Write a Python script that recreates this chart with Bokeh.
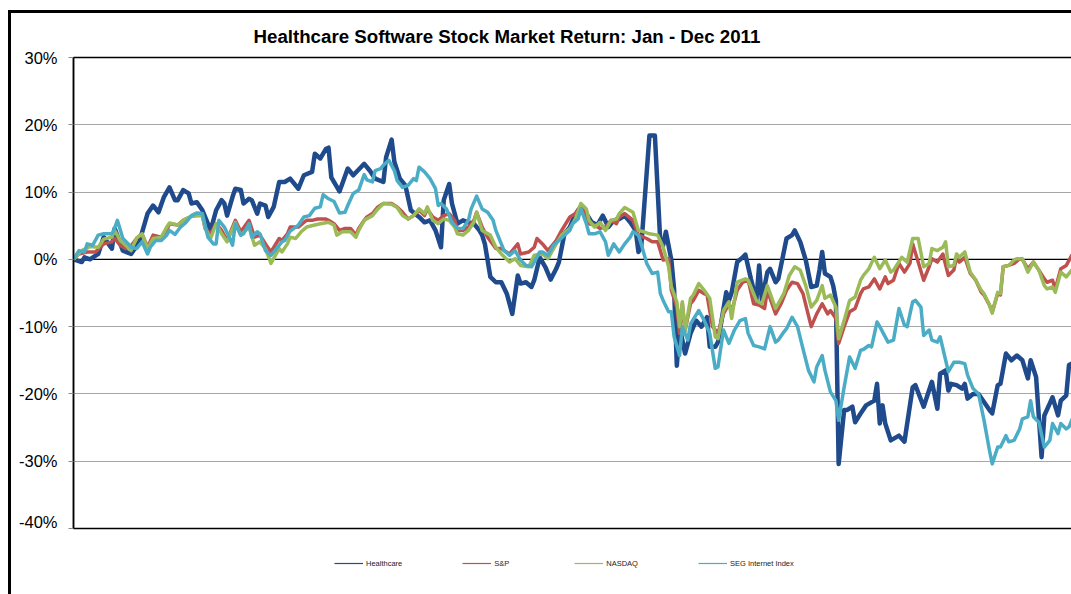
from bokeh.plotting import figure
from bokeh.layouts import column
from bokeh.models import Range1d, FixedTicker, PrintfTickFormatter, Span, Legend, LegendItem
from bokeh.embed import file_html
from bokeh.resources import INLINE

TITLE = "Healthcare Software Stock Market Return: Jan - Dec 2011"
series_names = ["Healthcare", "S&P", "NASDAQ", "SEG Internet Index"]
y_ticks = [-40, -30, -20, -10, 0, 10, 20, 30]

# day of year (0 = first trading day of 2011) and cumulative return in %
hc_day = [0,3,4,6,9,11,14,15,18,21,24,27,29,31,33,35,37,38,40,42,43,45,47,50,52,54,55,56,58,59,61,62,64,65,67,68,70,71,73,75,77,79,82,84,87,88,90,92,93,94,97,100,102,106,108,110,113,114,116,117,119,121,123,126,128,130,132,134,135,137,138,140,142,144,146,148,149,150,152,154,156,158,160,162,163,165,167,168,170,172,174,176,177,179,181,182,184,187,189,191,193,195,197,199,201,203,205,206,207,210,212,214,215,216,218,219,220,221,223,225,227,229,231,232,234,235,238,239,240,242,244,245,247,249,250,251,253,254,256,257,260,262,263,265,267,269,271,272,273,274,276,277,278,279,281,282,284,285,287,289,292,293,294,295,296,298,301,303,306,307,310,313,315,316,318,319,320,322,324,325,326,328,330,332,334,335,337,338,340,342,344,346,348,349,351,353,354,356,357,359,360,362,363,365]
hc_ret = [0.0,-0.4,0.3,0.0,0.8,3.3,1.6,4.6,1.3,0.8,2.6,6.8,8.0,7.0,9.3,10.7,8.8,8.8,10.3,9.8,8.3,8.5,7.3,4.3,7.3,8.8,8.3,6.5,9.3,10.5,10.3,8.3,9.0,8.8,6.8,8.3,8.0,6.3,7.8,11.5,11.5,12.0,10.5,12.5,13.0,15.7,15.0,16.4,16.6,12.2,10.1,13.5,12.5,14.2,13.2,12.0,11.5,15.2,17.8,14.5,12.0,11.0,7.3,6.3,5.5,5.8,4.3,1.8,8.8,11.2,8.3,5.3,5.8,5.5,5.3,4.3,3.6,2.3,-2.6,-3.4,-3.4,-5.1,-8.1,-2.4,-3.6,-3.4,-4.1,-3.1,0.3,-1.1,-3.0,-1.4,-0.4,3.8,4.8,5.8,7.3,6.8,5.5,5.1,6.5,4.8,5.8,6.0,6.5,5.5,4.3,1.1,1.8,18.4,18.4,2.3,2.1,4.1,-0.1,-4.4,-15.8,-10.0,-14.0,-11.0,-9.1,-10.0,-8.6,-13.0,-13.0,-12.3,-4.9,-6.1,-4.9,-0.4,0.3,0.7,-2.9,-6.1,-0.9,-6.1,-1.9,-1.4,-3.4,-2.9,3.1,3.6,4.3,2.6,-0.1,-4.1,-3.9,-1.6,1.1,-2.1,-2.6,-3.9,-6.1,-30.4,-22.4,-22.4,-21.9,-24.2,-22.9,-21.7,-21.0,-18.5,-24.4,-21.7,-24.4,-26.9,-26.2,-27.1,-19.0,-18.7,-21.9,-18.2,-22.2,-17.0,-16.5,-19.5,-18.5,-18.7,-19.2,-18.5,-20.7,-20.0,-20.0,-21.2,-22.4,-22.9,-18.7,-18.5,-14.0,-15.0,-14.3,-15.0,-17.7,-15.0,-17.5,-29.4,-23.2,-21.4,-20.5,-23.2,-21.0,-20.2,-15.7,-15.3]

sp_day = [0,2,5,8,11,14,15,17,19,21,23,25,27,29,32,34,35,38,40,43,45,47,48,50,52,54,56,59,61,64,66,68,70,72,75,76,78,79,82,84,85,87,89,92,93,95,97,99,101,103,104,106,107,109,111,113,116,118,120,122,124,126,128,129,131,133,135,137,139,140,142,144,146,147,149,151,154,156,159,160,162,163,166,168,169,171,173,176,178,181,183,185,187,188,190,192,194,196,198,199,201,204,206,209,211,213,215,217,218,220,221,222,223,225,226,228,230,231,233,235,237,239,240,242,244,246,248,250,252,253,256,258,260,262,264,266,269,271,273,275,276,278,279,281,283,285,287,288,290,292,294,296,297,299,301,303,305,306,308,310,312,313,315,317,319,321,322,323,325,327,329,331,332,334,335,337,338,339,341,343,345,346,348,350,352,354,355,357,358,360,362,364,365]
sp_ret = [0.0,0.8,1.1,1.1,2.3,2.6,3.1,2.1,1.6,2.0,3.1,3.8,1.8,3.6,3.3,4.3,5.3,5.1,5.8,6.4,6.5,6.5,4.6,3.8,5.3,4.3,2.8,5.8,4.1,5.8,3.3,3.6,2.3,1.1,3.1,2.8,3.8,4.8,4.8,5.5,5.8,5.8,6.0,6.0,5.8,5.3,4.3,4.6,4.6,3.6,4.6,5.8,6.3,6.8,7.8,8.3,8.3,7.8,7.0,6.0,6.5,7.3,6.5,7.5,6.3,5.8,6.5,6.8,5.8,4.3,4.3,4.8,5.8,7.0,4.8,3.3,1.6,1.6,0.8,1.3,2.3,0.8,1.1,1.8,3.1,2.3,1.3,2.8,4.3,6.3,6.8,8.0,6.5,5.3,5.1,4.6,4.8,5.8,5.3,6.3,6.8,5.8,3.6,3.1,2.6,2.6,-0.1,0.1,-4.6,-7.1,-11.0,-6.6,-10.6,-6.6,-6.1,-4.6,-5.1,-5.3,-10.0,-11.0,-8.1,-6.6,-7.8,-4.6,-3.4,-3.1,-6.6,-6.8,-7.3,-4.6,-8.1,-6.6,-4.6,-3.4,-3.6,-5.1,-10.0,-8.1,-6.6,-8.1,-7.6,-8.8,-12.5,-10.0,-7.8,-7.3,-5.1,-4.4,-4.1,-2.9,-4.4,-2.6,-3.6,-3.1,-0.6,-1.9,-0.6,2.3,-0.4,-3.1,-1.1,0.1,-0.4,0.8,-2.4,-1.6,0.3,-0.4,0.3,-2.1,-3.1,-4.9,-5.3,-6.8,-7.8,-5.1,-5.3,-1.1,-0.9,-0.6,0.1,0.0,-1.4,-0.4,-1.6,-2.9,-3.4,-3.1,-4.4,-1.4,-0.9,0.6,0.8]

nq_day = [0,3,6,9,11,14,15,17,19,21,23,25,27,29,32,34,35,38,40,43,45,47,48,50,52,54,56,59,61,64,66,68,70,72,75,76,78,79,81,83,85,88,90,93,95,96,98,101,103,104,106,109,111,113,116,118,120,122,124,126,128,129,131,133,135,137,139,140,142,144,146,147,149,152,154,156,159,161,163,166,168,171,173,176,178,181,183,185,187,188,190,192,194,196,198,199,201,204,206,208,210,213,215,217,218,220,221,222,223,225,226,228,230,232,234,235,237,239,240,242,245,246,249,251,253,256,259,261,263,265,267,269,271,273,274,276,278,279,281,283,285,287,288,290,292,294,296,298,299,302,304,306,308,310,312,313,315,317,318,319,321,322,323,325,327,329,331,332,334,335,337,338,339,341,343,344,346,348,350,352,354,355,357,358,360,362,364,365]
nq_ret = [0.0,1.3,1.9,1.8,3.0,3.3,4.3,2.8,2.1,1.3,3.2,3.8,1.6,3.1,3.3,4.8,5.4,5.1,5.8,6.4,6.5,6.5,4.6,3.1,5.3,3.8,2.6,5.5,3.6,4.8,2.1,2.6,1.6,-0.6,1.6,1.1,2.3,3.3,3.1,4.1,4.8,5.1,5.3,5.5,5.1,3.6,4.1,4.1,3.3,4.3,5.8,6.5,7.5,8.3,8.2,7.7,6.5,6.0,6.5,7.5,6.8,7.8,5.8,5.3,6.0,5.8,4.8,3.8,3.6,4.3,5.5,7.0,4.3,3.6,1.8,0.8,-0.4,0.1,-0.9,-1.1,0.6,0.8,0.1,2.3,3.6,4.6,6.0,8.3,7.5,5.8,4.8,5.5,4.3,5.8,6.0,6.8,7.7,7.0,4.3,4.1,3.8,3.6,1.8,-1.1,-4.1,-6.3,-10.0,-6.3,-10.6,-5.8,-5.3,-3.6,-4.6,-5.8,-11.5,-11.8,-7.6,-6.3,-8.8,-3.4,-2.9,-3.1,-6.1,-6.6,-3.9,-7.3,-5.1,-2.4,-1.1,-1.6,-3.9,-7.1,-6.1,-3.9,-5.8,-5.3,-7.1,-11.8,-9.1,-6.1,-5.6,-3.1,-2.4,-1.4,0.3,-1.4,-0.1,-1.9,-1.6,0.3,-0.4,3.1,3.1,-1.1,-0.6,1.6,1.3,1.8,2.6,-1.1,-0.9,0.8,0.3,1.1,-1.9,-3.1,-4.6,-5.1,-6.8,-8.0,-4.9,-5.1,-1.1,-0.9,-0.1,0.1,0.1,-1.9,-0.4,-1.6,-3.9,-4.4,-4.1,-4.9,-1.9,-2.6,-1.6,-1.1]

seg_day = [0,2,4,5,7,9,11,14,15,16,18,20,21,23,25,27,28,30,32,34,35,37,39,41,43,45,47,49,51,52,53,55,57,58,59,61,62,64,65,67,68,70,72,74,76,77,79,82,84,86,88,90,91,93,95,97,99,100,102,104,106,107,109,110,112,113,115,117,118,120,122,124,125,126,128,130,132,133,134,136,138,140,142,144,145,147,149,151,153,154,157,159,161,163,165,167,168,170,171,173,175,177,179,181,182,184,185,187,188,190,192,194,195,197,199,201,203,204,206,207,209,211,213,214,215,217,218,219,221,222,224,225,228,230,232,234,235,237,239,241,243,245,246,248,250,252,254,256,257,259,260,262,264,266,268,270,271,273,274,276,278,279,281,283,285,287,288,290,291,293,294,297,299,301,303,304,306,307,309,310,312,313,315,316,319,321,323,325,326,328,330,332,334,335,337,338,340,341,343,345,346,348,349,350,352,354,356,357,359,360,362,363,364,365]
seg_ret = [0.0,1.3,1.1,2.3,2.1,3.6,3.8,3.8,4.6,5.8,3.1,2.3,1.8,1.6,2.6,0.8,1.8,2.8,2.8,3.6,4.3,3.7,4.8,5.5,6.5,6.9,6.8,3.3,2.3,2.3,5.8,4.8,3.1,2.1,5.3,3.6,3.8,5.3,3.3,4.1,3.8,1.3,0.6,1.6,2.6,2.8,4.2,5.1,6.3,6.5,7.6,7.8,9.6,9.0,8.6,6.9,7.0,8.0,9.8,10.3,12.6,11.8,11.5,13.2,13.5,14.0,14.7,13.2,11.7,10.7,11.0,12.0,11.7,13.7,13.0,12.0,10.5,8.0,8.3,7.5,5.5,4.6,4.6,5.8,7.5,9.4,7.5,7.0,5.8,4.3,1.3,0.6,1.3,-0.1,-0.9,-1.1,-0.4,1.1,1.1,0.6,2.1,2.8,3.6,4.3,5.3,6.0,7.5,5.3,3.8,3.8,4.1,2.6,0.6,2.3,1.1,2.3,3.3,4.1,3.6,2.3,-0.6,-2.1,-1.9,-5.1,-6.1,-7.8,-7.8,-11.5,-14.3,-10.0,-12.0,-9.6,-7.6,-9.1,-11.0,-16.2,-16.0,-10.5,-12.5,-10.5,-9.1,-8.8,-11.0,-12.8,-13.0,-13.3,-10.0,-12.3,-12.0,-10.8,-10.3,-8.6,-10.0,-13.3,-16.5,-18.2,-16.0,-14.3,-16.5,-19.7,-21.0,-23.9,-19.0,-14.5,-16.2,-13.5,-13.4,-12.8,-13.0,-9.3,-10.0,-12.3,-12.0,-7.3,-9.8,-10.0,-6.3,-6.1,-7.1,-11.3,-10.5,-12.0,-12.3,-11.5,-16.7,-15.3,-15.3,-15.5,-17.2,-19.2,-20.0,-23.9,-28.4,-30.4,-27.9,-27.9,-26.2,-27.1,-26.9,-25.2,-23.7,-23.4,-21.0,-23.4,-24.2,-27.9,-26.9,-24.4,-25.9,-24.4,-25.2,-24.9,-23.9,-22.9]

colors = ["#1F4A8C", "#C0504D", "#9BBB59", "#4BACC6"]
widths = [4.5, 3.5, 3.5, 3.5]
FONT = "Liberation Sans"
NAN = float("nan")

# ---- main chart ----
p = figure(width=1063, height=520, output_backend="svg", toolbar_location=None,
           x_range=Range1d(0, 365), y_range=Range1d(-40, 30),
           min_border_left=62, min_border_right=0, min_border_top=44, min_border_bottom=5)
p.styles = {"margin-left": "8px", "margin-top": "10px",
            "border-left": "3px solid black", "border-top": "3px solid black"}
p.background_fill_color = "white"
p.border_fill_color = "white"
p.outline_line_color = "black"
p.outline_line_width = 1.5

p.title.text = TITLE
p.title.align = "left"
p.title.offset = 180
p.title.standoff = 21
p.title.text_font = FONT
p.title.text_font_style = "bold"
p.title.text_font_size = "18.7px"
p.title.text_color = "black"

p.xaxis.visible = False
p.xgrid.visible = False
ticker = FixedTicker(ticks=y_ticks)
p.yaxis.ticker = ticker
p.yaxis.formatter = PrintfTickFormatter(format="%d%%")
p.yaxis.major_label_text_font = FONT
p.yaxis.major_label_text_font_size = "16.5px"
p.yaxis.major_label_text_color = "black"
p.yaxis.major_label_standoff = 11
p.yaxis.major_tick_out = 5
p.yaxis.major_tick_in = 0
p.yaxis.major_tick_line_color = "#888888"
p.yaxis.minor_tick_line_color = None
p.yaxis.axis_line_color = "black"
p.yaxis.axis_line_width = 1.5
p.ygrid.ticker = ticker
p.ygrid.grid_line_color = "#A6A6A6"
p.ygrid.grid_line_width = 1

p.add_layout(Span(location=0, dimension="width", line_color="black", line_width=1.2, level="underlay"))

data = [(hc_day, hc_ret), (sp_day, sp_ret), (nq_day, nq_ret), (seg_day, seg_ret)]
for (d, r), c, w in zip(data, colors, widths):
    p.line(d, r, line_color=c, line_width=w, line_join="round")

# ---- legend strip below the chart ----
lg = figure(width=1063, height=64, output_backend="svg", toolbar_location=None,
            x_range=Range1d(0, 1), y_range=Range1d(0, 1),
            min_border_left=0, min_border_right=0, min_border_top=0, min_border_bottom=0)
lg.styles = {"margin-left": "8px", "border-left": "3px solid black"}
lg.axis.visible = False
lg.grid.visible = False
lg.outline_line_color = None
lg.background_fill_color = "white"
lg.border_fill_color = "white"

items = []
for name, c in zip(series_names, colors):
    proxy = lg.line(x=[NAN], y=[NAN], line_color=c, line_width=1.2)
    items.append(LegendItem(label=name, renderers=[proxy]))

legend = Legend(items=items, orientation="horizontal", location=(261, 25),
                glyph_width=29, glyph_height=12, label_height=12, label_standoff=3,
                spacing=60, padding=0, margin=0, border_line_color=None,
                background_fill_alpha=0, label_text_font=FONT,
                label_text_font_size="7.5px", label_text_color="#222222")
lg.add_layout(legend)

layout = column(p, lg, spacing=0)
open("out.html", "w").write(file_html(layout, INLINE))
